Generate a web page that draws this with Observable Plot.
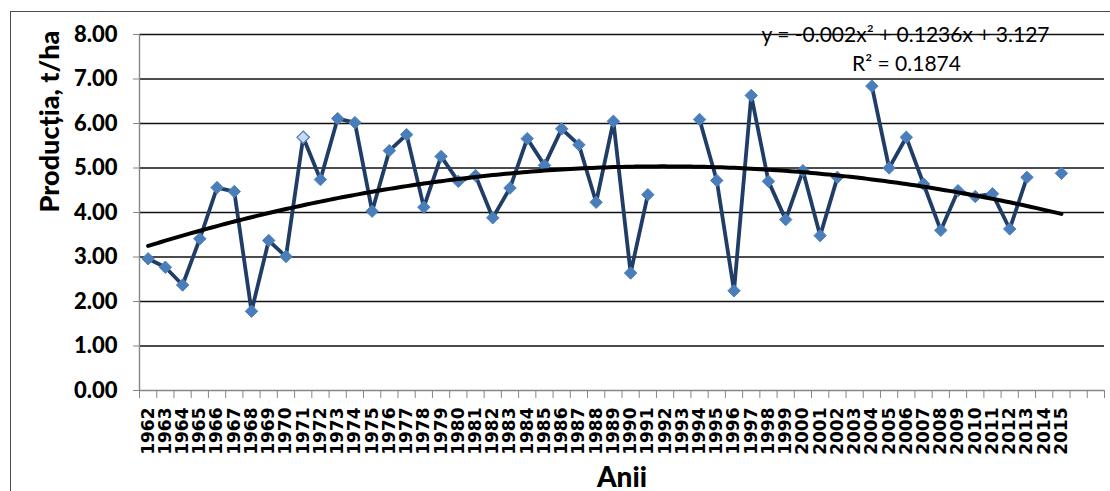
<!DOCTYPE html>
<html>
<head>
<meta charset="utf-8">
<script src="https://cdn.jsdelivr.net/npm/d3@7"></script>
<script src="https://cdn.jsdelivr.net/npm/@observablehq/plot@0.6"></script>
<style>
  html, body { margin: 0; padding: 0; background: #fff; overflow: hidden; }
  #wrap { position: relative; width: 1110px; height: 491px; }
  #border { position: absolute; left: 10px; top: 11px; width: 1300px; height: 700px; border: 1px solid #4d4d4d; box-sizing: border-box; }
  #chart { position: absolute; left: 0; top: 0; }
</style>
</head>
<body>
<div id="wrap"><div id="border"></div><div id="chart"></div></div>
<script>
// Years on the category axis (labels shown for each)
const years = d3.range(1962, 2016);
// Yield, t/ha (null = no data for that year)
const production = [
  2.96, 2.77, 2.37, 3.41, 4.56, 4.47, 1.78, 3.37, 3.01, 5.69,
  4.74, 6.11, 6.02, 4.03, 5.39, 5.75, 4.12, 5.26, 4.70, 4.83,
  3.88, 4.55, 5.66, 5.06, 5.88, 5.52, 4.23, 6.05, 2.64, 4.40,
  null, null, 6.09, 4.72, 2.24, 6.63, 4.70, 3.84, 4.94, 3.48,
  4.79, null, 6.84, 5.00, 5.69, 4.64, 3.60, 4.49, 4.36, 4.42,
  3.63, 4.79, null, 4.88
];
// Point drawn with a lighter marker
const highlightedYear = 1971;
// Y axis tick values
const yTicks = [0, 1, 2, 3, 4, 5, 6, 7, 8];
// Polynomial trend (order 2), x = 1 for the first year
const trendA = -0.002, trendB = 0.1236, trendC = 3.127;
const equationLabel = "y = -0.002x² + 0.1236x + 3.127";
const r2Label = "R² = 0.1874";

const table = years.map((year, i) => ({year, value: production[i] == null ? NaN : production[i]}));
const points = table.filter(d => !isNaN(d.value));

// trend curve sampled along the axis between the first and last year
const trend = d3.range(1, years.length + 0.001, 0.25).map(t => ({
  year: years[0] - 1 + t,
  value: trendA * t * t + trendB * t + trendC
}));

// category slots run two years past the last labelled year
const slotEdges = d3.range(years[0] - 0.5, years[years.length - 1] + 3);

const chart = Plot.plot({
  width: 1110,
  height: 491,
  marginLeft: 139,
  marginRight: 6,
  marginTop: 34,
  marginBottom: 101,
  style: {fontFamily: "Lato, sans-serif", background: "transparent", overflow: "visible", color: "#000"},
  x: {type: "linear", domain: [slotEdges[0], slotEdges[slotEdges.length - 1]], axis: null},
  y: {domain: [0, 8], axis: null},
  marks: [
    Plot.ruleY(yTicks.filter(d => d > 0), {stroke: "#111", strokeWidth: 1.5}),
    Plot.ruleY([0], {stroke: "#868686", strokeWidth: 1.4}),
    Plot.ruleX([slotEdges[0]], {stroke: "#868686", strokeWidth: 1.4}),
    Plot.axisY(yTicks, {
      tickSize: 6, tickPadding: 16, stroke: "#868686", fill: "#000",
      tickFormat: d => d.toFixed(2), fontSize: 22, fontWeight: 900, label: null
    }),
    Plot.axisX(slotEdges, {tickSize: 8, tickFormat: () => "", stroke: "#868686", label: null}),
    Plot.axisX(years, {
      tickSize: 0, tickPadding: 17, tickRotate: -90, tickFormat: d => String(d),
      fontSize: 17, fontWeight: "bold", fontFamily: "DejaVu Sans", fill: "#000", label: null
    }),
    Plot.line(table, {x: "year", y: "value", stroke: "#1f3d66", strokeWidth: 3.8, strokeLinejoin: "round"}),
    Plot.dot(points.filter(d => d.year !== highlightedYear), {
      x: "year", y: "value", symbol: "diamond2", r: 5.6, fill: "#4a7ebb", stroke: "#4f81bd", strokeWidth: 1
    }),
    Plot.dot(points.filter(d => d.year === highlightedYear), {
      x: "year", y: "value", symbol: "diamond2", r: 5.6, fill: "#c9daf0", stroke: "#4f81bd", strokeWidth: 1.3
    }),
    Plot.line(trend, {x: "year", y: "value", stroke: "#000", strokeWidth: 4, curve: "natural"}),
    Plot.text([equationLabel], {frameAnchor: "top-right", dx: -199, dy: -7, textAnchor: "middle", fontSize: 21, fill: "#000"}),
    Plot.text([r2Label], {frameAnchor: "top-right", dx: -198, dy: 22, textAnchor: "middle", fontSize: 21, fill: "#000"}),
    Plot.text(["Producția, t/ha"], {frameAnchor: "left", dx: -89, rotate: -90, fontSize: 27, fontWeight: 900, fill: "#000"}),
    Plot.text(["Anii"], {frameAnchor: "bottom", dy: 96, fontSize: 28, fontWeight: 900, fill: "#000"})
  ]
});
document.getElementById("chart").appendChild(chart);
</script>
</body>
</html>
